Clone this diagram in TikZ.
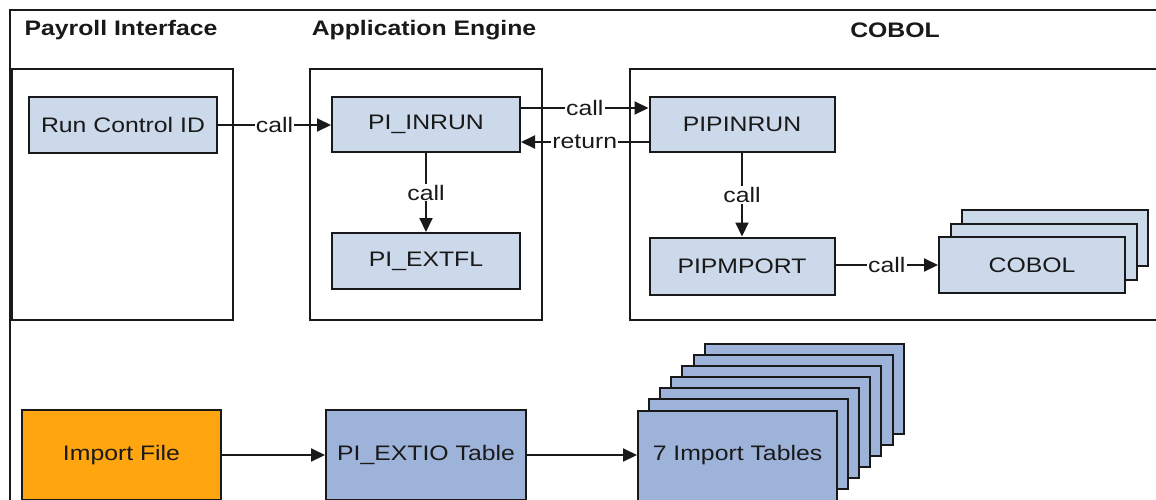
\documentclass[tikz,border=0pt]{standalone}
\usepackage{fontspec}
\setmainfont{Liberation Sans}[FakeStretch=1.18]
\usetikzlibrary{arrows.meta}
\definecolor{lb}{RGB}{204,217,235}
\definecolor{mb}{RGB}{158,179,218}
\definecolor{orng}{RGB}{255,165,15}
\definecolor{ink}{RGB}{25,25,25}
\begin{document}
\begin{tikzpicture}[x=1pt,y=-1pt,
  txt/.style={font=\fontsize{21}{24}\selectfont, text=ink},
  title/.style={font=\fontsize{21}{24}\selectfont\bfseries, text=ink, inner sep=0pt},
  box/.style={draw=ink, line width=2pt, fill=lb, inner sep=0pt, txt},
  tbox/.style={box, fill=mb},
  fbox/.style={box, fill=orng},
  cont/.style={draw=ink, line width=1.8pt},
  frame/.style={draw=ink, line width=1.4pt},
  conn/.style={draw=ink, line width=2pt, -{Triangle[length=14pt,width=13pt]}},
  lbl/.style={fill=white, inner sep=1.2pt, txt}]
\useasboundingbox (0,0) rectangle (1156,499);
\clip (0,0) rectangle (1156,499);
\fill[white] (0,0) rectangle (1156,499);
\draw[frame] (10,10) rectangle (1180,530);
% titles
\node[title] (t1) at (121,30) {Payroll Interface};
\node[title] (t2) at (424,30) {Application Engine};
\node[title] (t3) at (895,30) {COBOL};
% containers
\draw[cont] (12,69) rectangle (233,320);
\draw[cont] (310,69) rectangle (542,320);
\draw[cont] (630,69) rectangle (1180,320);
% top boxes
\node[box, minimum width=188pt, minimum height=56pt] (rc) at (123,125) {Run Control ID};
\node[box, minimum width=188pt, minimum height=55pt] (inrun) at (426,124.5) {PI\_INRUN};
\node[box, minimum width=188pt, minimum height=56pt] (extfl) at (426,261) {PI\_EXTFL};
\node[box, minimum width=185pt, minimum height=55pt] (pipinrun) at (742,124.5) {PIPINRUN};
\node[box, minimum width=185pt, minimum height=57pt] (pipmport) at (742,266) {PIPMPORT};
\foreach \k in {2,1}
  \node[box, minimum width=186pt, minimum height=56pt] (cb\k) at ({1032+11.5*\k},{265-13.5*\k}) {};
\node[box, minimum width=186pt, minimum height=56pt] (cobol) at (1032,265) {COBOL};
% bottom boxes
\node[fbox, minimum width=199pt, minimum height=90pt] (imp) at (121.5,455) {Import File};
\node[tbox, minimum width=200pt, minimum height=90pt] (extio) at (426,455) {PI\_EXTIO Table};
\foreach \k in {6,5,4,3,2,1}
  \node[tbox, minimum width=199pt, minimum height=90pt] (tb\k) at ({737.5+11.1*\k},{455.5-11.1*\k}) {};
\node[tbox, minimum width=199pt, minimum height=90pt] (tables) at (737.5,455.5) {7 Import Tables};
% connectors
\draw[conn] (rc.east) -- node[lbl] {call} (rc.east -| inrun.west);
\draw[conn] ([yshift=16.5pt]inrun.east) -- node[lbl] {call} ([yshift=16.5pt]inrun.east -| pipinrun.west);
\draw[conn] ([yshift=-17.5pt]pipinrun.west) -- node[lbl] {return} ([yshift=-17.5pt]pipinrun.west -| inrun.east);
\draw[conn] (inrun.south) -- node[lbl] {call} (extfl.north);
\draw[conn] (pipinrun.south) -- node[lbl] {call} (pipmport.north);
\draw[conn] (pipmport.east |- cobol.west) -- node[lbl] {call} (cobol.west);
\draw[conn] (imp.east) -- (extio.west);
\draw[conn] (extio.east) -- (extio.east -| tables.west);
\end{tikzpicture}
\end{document}
